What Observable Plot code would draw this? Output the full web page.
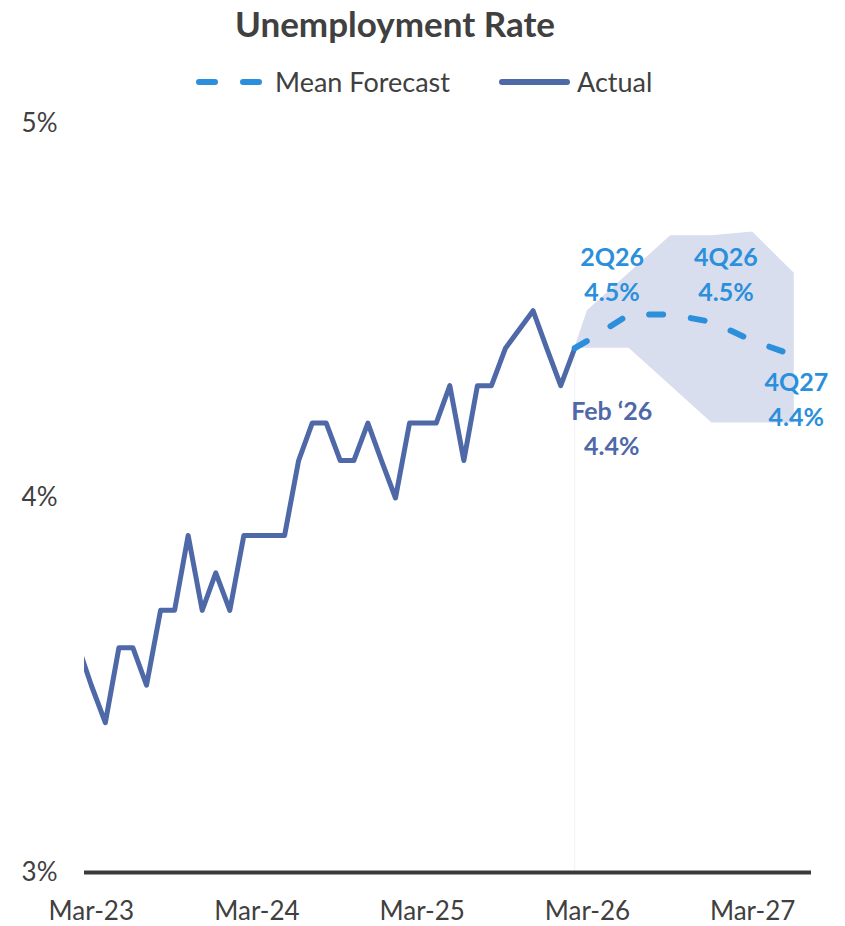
<!DOCTYPE html>
<html><head><meta charset="utf-8">
<script src="https://cdn.jsdelivr.net/npm/d3@7"></script>
<script src="https://cdn.jsdelivr.net/npm/@observablehq/plot@0.6"></script>
<style>
body{margin:0;background:#fff;font-family:Lato,"Noto Sans",sans-serif;}
#wrap{position:relative;width:845px;height:926px;overflow:hidden;background:#fff;}
#title{position:absolute;left:0;top:3px;width:790px;text-align:center;font-weight:bold;font-size:35px;line-height:40px;color:#404040;}
.legtxt{position:absolute;font-size:27px;line-height:30px;top:67px;color:#404040;white-space:nowrap;}
.legsw{position:absolute;top:72px;}
#chart{position:absolute;left:0;top:105px;}
</style></head>
<body><div id="wrap">
<div id="title">Unemployment Rate</div>
<svg class="legsw" style="left:190px" width="80" height="20"><line x1="9" y1="10" x2="69" y2="10" stroke="#2B8FDB" stroke-width="6" stroke-linecap="round" stroke-dasharray="16 28"/></svg>
<div class="legtxt" style="left:275px">Mean Forecast</div>
<svg class="legsw" style="left:495px" width="80" height="20"><line x1="7" y1="10" x2="72" y2="10" stroke="#4E68A8" stroke-width="6" stroke-linecap="round"/></svg>
<div class="legtxt" style="left:577px">Actual</div>
<div id="chart"></div>
</div>
<script>
// Actual monthly unemployment rate (Oct 2025 not published)
const actualMonths = ["2023-02","2023-03","2023-04","2023-05","2023-06","2023-07","2023-08","2023-09","2023-10","2023-11","2023-12",
  "2024-01","2024-02","2024-03","2024-04","2024-05","2024-06","2024-07","2024-08","2024-09","2024-10","2024-11","2024-12",
  "2025-01","2025-02","2025-03","2025-04","2025-05","2025-06","2025-07","2025-08","2025-09","2025-11","2025-12",
  "2026-01","2026-02"];
const actualValues = [3.6,3.5,3.4,3.6,3.6,3.5,3.7,3.7,3.9,3.7,3.8,
  3.7,3.9,3.9,3.9,3.9,4.1,4.2,4.2,4.1,4.1,4.2,4.1,
  4.0,4.2,4.2,4.2,4.3,4.1,4.3,4.3,4.4,4.5,4.4,
  4.3,4.4];

// Forecast (starting from the last actual point)
const forecastPeriods = ["Feb \u201826","1Q26","2Q26","3Q26","4Q26","1Q27","4Q27"];
const forecastMonths  = ["2026-02","2026-03","2026-06","2026-09","2026-12","2027-03","2027-06"];
const forecastMean    = [4.40,4.42,4.49,4.49,4.47,4.42,4.38];
const forecastLow     = [4.40,4.40,4.40,4.30,4.20,4.20,4.20];
const forecastHigh    = [4.40,4.50,4.60,4.70,4.70,4.71,4.60];

// Axis ticks
const xTickMonths = ["2023-03","2024-03","2025-03","2026-03","2027-03"];
const xTickLabels = ["Mar-23","Mar-24","Mar-25","Mar-26","Mar-27"];
const yTicks = [3,4,5];
const yTickLabels = ["3%","4%","5%"];

// Labeled forecast points
const labeledPeriods = ["2Q26","4Q26","4Q27"];
const lastActualLabel = "Feb \u201826";

const parse = d3.utcParse("%Y-%m");
const actual = actualMonths.map((m,i)=>({date:parse(m), value:actualValues[i]}));
const forecast = forecastMonths.map((m,i)=>({period:forecastPeriods[i], date:parse(m), mean:forecastMean[i], low:forecastLow[i], high:forecastHigh[i]}));
const xTicks = xTickMonths.map(parse);
const xLab = new Map(xTicks.map((d,i)=>[+d, xTickLabels[i]]));
const yLab = new Map(yTicks.map((d,i)=>[d, yTickLabels[i]]));

const FC = "#2B8FDB", AC = "#4E68A8";
const offsets = {"2Q26":[-17,-42], "4Q26":[14,-50], "4Q27":[2,42]};

const labelMarks = labeledPeriods.map(p => {
  const d = forecast.find(f => f.period === p);
  return Plot.text([d], {x:"date", y:"mean", text: d => `${d.period}\n${d.mean.toFixed(1)}%`,
    dx: offsets[p][0], dy: offsets[p][1], lineAnchor:"middle", lineHeight:1.4,
    fontSize:25, fontWeight:"bold", fill:FC});
});
const lastA = actual[actual.length-1];

const chart = Plot.plot({
  width:845, height:821,
  marginLeft:84, marginRight:34, marginTop:18, marginBottom:54,
  style:{fontFamily:"Lato, 'Noto Sans', sans-serif", fontSize:"26px", color:"#404040", background:"transparent", overflow:"visible"},
  x:{type:"utc", domain:[new Date("2023-02-14"), new Date("2027-07-09")]},
  y:{domain:[3,5]},
  marks:[
    Plot.areaY(forecast, {x:"date", y1:"low", y2:"high", fill:"#D9DEEE"}),
    Plot.ruleX([lastA], {x:"date", y1:3, y2:"value", stroke:"#F2F3F8", strokeWidth:1}),
    Plot.ruleY([3], {stroke:"#3A3A3A", strokeWidth:4}),
    Plot.line(actual, {x:"date", y:"value", stroke:AC, strokeWidth:5, clip:true}),
    Plot.line(forecast, {x:"date", y:"mean", stroke:FC, strokeWidth:6, strokeDasharray:"14 28", strokeLinecap:"round"}),
    Plot.axisX({ticks:xTicks, tickFormat:d=>xLab.get(+d), tickSize:0, tickPadding:29, fontSize:26, fill:"#404040"}),
    Plot.axisY({ticks:yTicks, tickFormat:d=>yLab.get(d), tickSize:0, tickPadding:27, fontSize:26, fill:"#404040"}),
    ...labelMarks,
    Plot.text([lastA], {x:"date", y:"value", text:d=>`${lastActualLabel}\n${d.value.toFixed(1)}%`,
      dx:37, dy:78, lineAnchor:"middle", lineHeight:1.4, fontSize:25, fontWeight:"bold", fill:AC})
  ]
});
document.getElementById("chart").appendChild(chart);
</script>
</body></html>
